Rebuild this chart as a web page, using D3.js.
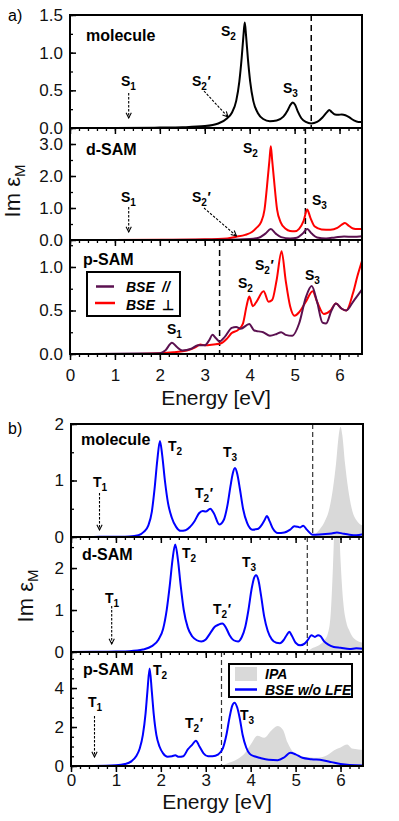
<!DOCTYPE html>
<html>
<head>
<meta charset="utf-8">
<script src="https://cdn.jsdelivr.net/npm/d3@7"></script>
<style>
  body { margin: 0; background: #fff; }
  text { font-family: "Liberation Sans", Arial, sans-serif; }
</style>
</head>
<body>
<svg id="chart" width="399" height="821"></svg>
<script>
// energy axis
const energyTicks = [0, 1, 2, 3, 4, 5, 6];
const energyMinor = d3.range(0, 6.5001, 0.2);

// a) molecule, BSE
const aMolecule = [[0,0],[1,0],[2,0.005],[2.5,0.01],[3,0.025],[3.3,0.06],[3.5,0.13],[3.6,0.2],[3.7,0.36],[3.77,0.62],[3.82,0.92],[3.86,1.22],[3.89,1.4],[3.92,1.22],[3.96,0.92],[4.01,0.62],[4.08,0.36],[4.18,0.2],[4.3,0.12],[4.45,0.09],[4.6,0.1],[4.75,0.15],[4.85,0.24],[4.91,0.31],[4.96,0.34],[5.01,0.31],[5.07,0.22],[5.15,0.13],[5.25,0.08],[5.37,0.06],[5.5,0.08],[5.62,0.14],[5.72,0.21],[5.77,0.24],[5.83,0.21],[5.9,0.18],[5.97,0.175],[6.05,0.18],[6.13,0.17],[6.22,0.14],[6.32,0.1],[6.42,0.08],[6.5,0.08]];
// a) d-SAM
const aDsamPerp = [[0,0],[2,0.005],[3,0.02],[3.5,0.05],[3.7,0.1],[3.9,0.16],[4.05,0.25],[4.15,0.38],[4.25,0.55],[4.33,0.95],[4.4,1.9],[4.44,2.5],[4.47,2.93],[4.5,2.5],[4.54,1.9],[4.61,0.95],[4.69,0.55],[4.8,0.35],[4.9,0.28],[5.0,0.27],[5.1,0.35],[5.2,0.6],[5.28,0.95],[5.35,0.7],[5.45,0.42],[5.6,0.33],[5.8,0.32],[5.95,0.38],[6.05,0.48],[6.12,0.53],[6.2,0.45],[6.3,0.36],[6.4,0.34],[6.5,0.34]];
const aDsamPar = [[0,0],[3.5,0.005],[4.0,0.03],[4.2,0.07],[4.35,0.2],[4.47,0.34],[4.58,0.2],[4.7,0.09],[4.9,0.05],[5.05,0.07],[5.18,0.2],[5.28,0.34],[5.38,0.2],[5.5,0.08],[5.7,0.05],[5.9,0.08],[6.1,0.11],[6.3,0.1],[6.5,0.12]];
// a) p-SAM
const aPsamPerp = [[0,0],[1,0],[2,0.01],[2.3,0.02],[2.6,0.04],[2.8,0.08],[2.9,0.11],[3.0,0.1],[3.2,0.11],[3.35,0.12],[3.5,0.18],[3.6,0.24],[3.75,0.28],[3.85,0.35],[3.93,0.55],[3.99,0.66],[4.07,0.55],[4.15,0.6],[4.31,0.72],[4.42,0.6],[4.5,0.62],[4.6,0.85],[4.71,1.18],[4.8,0.85],[4.9,0.55],[5.0,0.44],[5.1,0.48],[5.25,0.6],[5.4,0.72],[5.5,0.6],[5.65,0.46],[5.8,0.5],[5.92,0.58],[6.05,0.52],[6.15,0.5],[6.3,0.7],[6.4,0.9],[6.5,1.07]];
const aPsamPar = [[0,0],[1.5,0.005],[2.0,0.01],[2.12,0.04],[2.27,0.13],[2.38,0.08],[2.5,0.04],[2.7,0.06],[2.85,0.1],[3.0,0.1],[3.1,0.16],[3.17,0.22],[3.25,0.18],[3.33,0.145],[3.45,0.2],[3.6,0.3],[3.7,0.31],[3.8,0.29],[3.99,0.345],[4.1,0.27],[4.2,0.26],[4.3,0.25],[4.45,0.21],[4.6,0.23],[4.7,0.25],[4.8,0.22],[4.95,0.21],[5.1,0.35],[5.25,0.65],[5.38,0.78],[5.5,0.6],[5.62,0.36],[5.7,0.35],[5.82,0.5],[5.92,0.58],[6.05,0.52],[6.15,0.5],[6.3,0.6],[6.5,0.74]];

// b) molecule
const bMolBse = [[0,0],[0.5,0.002],[1.0,0.005],[1.3,0.01],[1.5,0.03],[1.62,0.09],[1.72,0.2],[1.8,0.45],[1.86,0.85],[1.92,1.35],[1.98,1.7],[2.03,1.45],[2.09,1.0],[2.16,0.6],[2.24,0.35],[2.34,0.18],[2.44,0.11],[2.55,0.12],[2.65,0.18],[2.75,0.28],[2.85,0.42],[2.93,0.46],[3.0,0.45],[3.1,0.5],[3.18,0.42],[3.3,0.22],[3.4,0.3],[3.48,0.55],[3.55,0.9],[3.6,1.12],[3.65,1.22],[3.7,1.12],[3.76,0.85],[3.83,0.5],[3.92,0.25],[4.04,0.13],[4.15,0.14],[4.25,0.22],[4.31,0.3],[4.36,0.37],[4.42,0.28],[4.5,0.14],[4.6,0.07],[4.75,0.08],[4.88,0.13],[4.97,0.19],[5.05,0.18],[5.1,0.17],[5.17,0.2],[5.25,0.13],[5.38,0.04],[5.6,0.05],[5.8,0.06],[5.92,0.08],[6.05,0.06],[6.2,0.04],[6.35,0.03],[6.5,0.05]];
const bMolIpa = [[5.38,0],[5.45,0.06],[5.55,0.15],[5.65,0.28],[5.75,0.5],[5.83,0.85],[5.9,1.3],[5.96,1.8],[6.0,1.95],[6.04,1.8],[6.1,1.3],[6.17,0.85],[6.25,0.5],[6.35,0.3],[6.5,0.2]];
// b) d-SAM
const bDsamBse = [[0,0],[0.5,0.003],[1.0,0.01],[1.3,0.02],[1.6,0.06],[1.8,0.14],[1.95,0.3],[2.05,0.55],[2.13,1.0],[2.2,1.6],[2.26,2.2],[2.32,2.56],[2.38,2.2],[2.44,1.6],[2.51,1.0],[2.6,0.58],[2.7,0.37],[2.8,0.28],[2.9,0.25],[3.0,0.3],[3.1,0.45],[3.2,0.6],[3.28,0.65],[3.37,0.68],[3.45,0.58],[3.53,0.4],[3.62,0.28],[3.72,0.25],[3.8,0.35],[3.88,0.6],[3.95,1.0],[4.02,1.5],[4.08,1.78],[4.12,1.83],[4.17,1.72],[4.23,1.35],[4.3,0.85],[4.38,0.5],[4.47,0.3],[4.57,0.22],[4.65,0.21],[4.73,0.28],[4.8,0.4],[4.86,0.48],[4.92,0.38],[5.0,0.22],[5.1,0.16],[5.2,0.2],[5.28,0.3],[5.35,0.4],[5.43,0.36],[5.5,0.4],[5.55,0.38],[5.63,0.26],[5.72,0.18],[5.85,0.12],[6.0,0.1],[6.2,0.07],[6.35,0.09],[6.5,0.08]];
const bDsamIpa = [[5.26,0],[5.35,0.08],[5.5,0.15],[5.62,0.25],[5.72,0.45],[5.78,0.9],[5.83,2.0],[5.87,3.2],[5.91,4.0],[5.96,3.2],[6.0,2.2],[6.06,1.2],[6.13,0.7],[6.2,0.5],[6.3,0.32],[6.5,0.22]];
// b) p-SAM
const bPsamBse = [[0,0],[0.5,0.005],[1.0,0.04],[1.2,0.1],[1.35,0.25],[1.45,0.5],[1.53,0.9],[1.6,1.6],[1.66,2.7],[1.7,3.8],[1.75,5.0],[1.8,3.8],[1.84,2.7],[1.9,1.6],[1.97,1.0],[2.05,0.65],[2.15,0.48],[2.25,0.5],[2.32,0.55],[2.4,0.47],[2.5,0.5],[2.6,0.85],[2.7,1.1],[2.78,1.3],[2.86,1.0],[2.95,0.65],[3.05,0.5],[3.15,0.5],[3.28,0.6],[3.38,0.9],[3.46,1.6],[3.53,2.5],[3.59,3.1],[3.64,3.25],[3.7,3.0],[3.76,2.4],[3.82,1.6],[3.9,0.95],[3.98,0.62],[4.08,0.5],[4.2,0.42],[4.4,0.32],[4.6,0.3],[4.75,0.45],[4.88,0.68],[5.0,0.6],[5.15,0.42],[5.35,0.35],[5.6,0.3],[5.8,0.2],[6.0,0.1],[6.2,0.05],[6.5,0.03]];
const bPsamIpa = [[3.35,0],[3.5,0.15],[3.7,0.35],[3.85,0.6],[4.0,1.1],[4.15,1.55],[4.3,1.45],[4.45,1.8],[4.6,2.05],[4.72,1.85],[4.82,1.2],[4.95,0.7],[5.1,0.5],[5.3,0.45],[5.5,0.42],[5.7,0.55],[5.85,0.8],[6.0,0.95],[6.15,1.1],[6.25,0.9],[6.4,0.85],[6.5,0.82]];

// gap positions (dashed lines)
const gapsA = [5.37, 5.24, 3.33];
const gapsB = [5.38, 5.26, 3.35];

const svg = d3.select("#chart");
const defs = svg.append("defs");
defs.append("marker")
  .attr("id", "arr")
  .attr("viewBox", "0 0 10 10")
  .attr("refX", 9).attr("refY", 5)
  .attr("markerWidth", 6).attr("markerHeight", 6)
  .attr("orient", "auto")
  .append("path")
  .attr("d", "M1,1 L9,5 L1,9")
  .attr("fill", "none").attr("stroke", "#000").attr("stroke-width", 1.6);

const red = "#ff0000", purple = "#5b1150", blue = "#0000ff", grey = "#d9d9d9";

const panels = [
  { x0: 70, x1: 362, y0: 15, y1: 128, ymax: 1.5, major: [0, 0.5, 1, 1.5], minor: 0.25, fmt: ".1f",
    gap: gapsA[0], gapStyle: "a", name: "molecule", nameX: 86, nameY: 41,
    lines: [{ data: aMolecule, color: "#000" }],
    labels: [{ b: "S", s: "2", x: 221, y: 36 }, { b: "S", s: "1", x: 121, y: 86 }, { b: "S", s: "2", p: 1, x: 192, y: 86 }, { b: "S", s: "3", x: 283, y: 93 }],
    arrows: [[128.7, 93, 128.7, 118], [204, 91, 228, 117]] },
  { x0: 70, x1: 362, y0: 128, y1: 240, ymax: 3.5, major: [0, 1, 2, 3], minor: 0.5, fmt: ".1f",
    gap: gapsA[1], gapStyle: "a", name: "d-SAM", nameX: 86, nameY: 155,
    lines: [{ data: aDsamPerp, color: red }, { data: aDsamPar, color: purple }],
    labels: [{ b: "S", s: "2", x: 243, y: 153 }, { b: "S", s: "1", x: 121, y: 202 }, { b: "S", s: "2", p: 1, x: 192, y: 202 }, { b: "S", s: "3", x: 312, y: 205 }],
    arrows: [[128.7, 207, 128.7, 232], [204, 208, 236.5, 236]] },
  { x0: 70, x1: 362, y0: 240, y1: 354, ymax: 1.31, major: [0, 0.5, 1], minor: 0.25, fmt: ".1f",
    gap: gapsA[2], gapStyle: "a", name: "p-SAM", nameX: 83, nameY: 265, xLabels: true, xPad: 9, titleY: 405,
    lines: [{ data: aPsamPerp, color: red }, { data: aPsamPar, color: purple }],
    labels: [{ b: "S", s: "1", x: 167, y: 334 }, { b: "S", s: "2", x: 238, y: 288 }, { b: "S", s: "2", p: 1, x: 255, y: 270 }, { b: "S", s: "3", x: 305, y: 280 }],
    arrows: [] },
  { x0: 71, x1: 363, y0: 424, y1: 537, ymax: 2, major: [0, 1, 2], minor: 0.5, fmt: "d",
    gap: gapsB[0], gapStyle: "b", name: "molecule", nameX: 81, nameY: 445,
    ipa: bMolIpa, lines: [{ data: bMolBse, color: blue }],
    labels: [{ b: "T", s: "2", x: 168, y: 451 }, { b: "T", s: "1", x: 93, y: 487 }, { b: "T", s: "2", p: 1, x: 195, y: 498 }, { b: "T", s: "3", x: 223, y: 457 }],
    arrows: [[99.5, 493, 99.5, 530]] },
  { x0: 71, x1: 363, y0: 537, y1: 652, ymax: 2.74, major: [0, 1, 2], minor: 0.5, fmt: "d",
    gap: gapsB[1], gapStyle: "b", name: "d-SAM", nameX: 82, nameY: 560,
    ipa: bDsamIpa, lines: [{ data: bDsamBse, color: blue }],
    labels: [{ b: "T", s: "2", x: 182, y: 558 }, { b: "T", s: "3", x: 242, y: 567 }, { b: "T", s: "2", p: 1, x: 213, y: 614 }, { b: "T", s: "1", x: 105, y: 603 }],
    arrows: [[111.7, 606, 111.7, 644]] },
  { x0: 71, x1: 363, y0: 652, y1: 766, ymax: 5.85, major: [0, 2, 4], minor: 0.5, fmt: "d",
    gap: gapsB[2], gapStyle: "b", name: "p-SAM", nameX: 83, nameY: 675, xLabels: true, xPad: 2, titleY: 809,
    ipa: bPsamIpa, lines: [{ data: bPsamBse, color: blue }],
    labels: [{ b: "T", s: "2", x: 153, y: 675 }, { b: "T", s: "1", x: 88, y: 707 }, { b: "T", s: "2", p: 1, x: 185, y: 728 }, { b: "T", s: "3", x: 240, y: 720 }],
    arrows: [[94.5, 716, 94.5, 757]] }
];

function peakLabel(g, l) {
  const t = g.append("text").attr("x", l.x).attr("y", l.y)
    .attr("font-size", 14).attr("font-weight", "bold").attr("fill", "#000");
  t.append("tspan").text(l.b);
  t.append("tspan").attr("font-size", 10).attr("dy", 4).text(l.s);
  if (l.p) t.append("tspan").attr("dy", -4).attr("dx", 0.5).text("\u2032");
}

panels.forEach((p, i) => {
  const g = svg.append("g");
  const x = d3.scaleLinear().domain([0, 6.5]).range([p.x0, p.x1]);
  const y = d3.scaleLinear().domain([0, p.ymax]).range([p.y1, p.y0]);

  const clipId = "clip" + i;
  defs.append("clipPath").attr("id", clipId).append("rect")
    .attr("x", p.x0).attr("y", p.y0).attr("width", p.x1 - p.x0).attr("height", p.y1 - p.y0);
  const plot = g.append("g").attr("clip-path", `url(#${clipId})`);

  if (p.ipa) {
    plot.append("path").datum(p.ipa)
      .attr("fill", grey)
      .attr("d", d3.area().x(d => x(d[0])).y0(y(0)).y1(d => y(d[1])).curve(d3.curveMonotoneX));
  }

  // gap line
  plot.append("line")
    .attr("x1", x(p.gap)).attr("x2", x(p.gap)).attr("y1", p.y0).attr("y2", p.y1)
    .attr("stroke", p.gapStyle === "a" ? "#000" : "#333")
    .attr("stroke-width", p.gapStyle === "a" ? 1.5 : 1.2)
    .attr("stroke-dasharray", p.gapStyle === "a" ? "6,4" : "5,3");

  const line = d3.line().x(d => x(d[0])).y(d => y(d[1])).curve(d3.curveMonotoneX);
  p.lines.forEach(s => {
    plot.append("path").datum(s.data)
      .attr("fill", "none").attr("stroke", s.color)
      .attr("stroke-width", 2).attr("stroke-linejoin", "round")
      .attr("d", line);
  });

  // y axis
  const yMinor = d3.range(0, p.ymax + 1e-6, p.minor);
  g.append("g").attr("transform", `translate(${p.x0},0)`)
    .call(d3.axisLeft(y).tickValues(yMinor).tickSizeInner(-3).tickSizeOuter(0).tickFormat(""))
    .call(a => a.select(".domain").remove())
    .selectAll("line").attr("stroke-width", 1.3);
  const ya = g.append("g").attr("transform", `translate(${p.x0},0)`)
    .call(d3.axisLeft(y).tickValues(p.major).tickSizeInner(-6).tickSizeOuter(0).tickPadding(7).tickFormat(d3.format(p.fmt)))
    .call(a => a.select(".domain").remove());
  ya.selectAll("line").attr("stroke-width", 1.5);
  ya.selectAll("text").attr("font-size", 17).attr("fill", "#111")
    .style("font-family", "'Liberation Sans', Arial, sans-serif");

  // x axis
  g.append("g").attr("transform", `translate(0,${p.y1})`)
    .call(d3.axisBottom(x).tickValues(energyMinor).tickSize(3).tickFormat(""))
    .call(a => a.select(".domain").remove())
    .selectAll("line").attr("stroke-width", 1.3);
  const xa = g.append("g").attr("transform", `translate(0,${p.y1})`)
    .call(d3.axisBottom(x).tickValues(energyTicks).tickSize(6).tickPadding(p.xPad || 3)
      .tickFormat(p.xLabels ? d3.format("d") : ""))
    .call(a => a.select(".domain").remove());
  xa.selectAll("line").attr("stroke-width", 1.5);
  xa.selectAll("text").attr("font-size", 17).attr("fill", "#111")
    .style("font-family", "'Liberation Sans', Arial, sans-serif");

  if (p.xLabels) {
    g.append("text").attr("x", (p.x0 + p.x1) / 2).attr("y", p.titleY)
      .attr("text-anchor", "middle").attr("font-size", 21).attr("fill", "#111")
      .text("Energy [eV]");
  }

  // frame
  g.append("rect").attr("x", p.x0).attr("y", p.y0)
    .attr("width", p.x1 - p.x0).attr("height", p.y1 - p.y0)
    .attr("fill", "none").attr("stroke", "#000").attr("stroke-width", 2);

  g.append("text").attr("x", p.nameX).attr("y", p.nameY)
    .attr("font-size", 16).attr("font-weight", "bold").text(p.name);

  p.labels.forEach(l => peakLabel(g, l));
  p.arrows.forEach(a => {
    g.append("line").attr("x1", a[0]).attr("y1", a[1]).attr("x2", a[2]).attr("y2", a[3])
      .attr("stroke", "#000").attr("stroke-width", 1.1).attr("stroke-dasharray", "2.5,1.5")
      .attr("marker-end", "url(#arr)");
  });
});

// y titles
function yTitle(xp, yp) {
  const t = svg.append("text")
    .attr("transform", `translate(${xp},${yp}) rotate(-90)`)
    .attr("text-anchor", "middle").attr("font-size", 22).attr("fill", "#111");
  t.append("tspan").text("Im \u03b5");
  t.append("tspan").attr("font-size", 15).attr("dy", 5).text("M");
}
yTitle(20, 191);
yTitle(33, 596);

// panel letters
svg.append("text").attr("x", 8).attr("y", 21).attr("font-size", 16).text("a)");
svg.append("text").attr("x", 8).attr("y", 434).attr("font-size", 16).text("b)");

// legend a)
const la = svg.append("g");
la.append("rect").attr("x", 87).attr("y", 272).attr("width", 93).attr("height", 44)
  .attr("fill", "#fff").attr("stroke", "#000").attr("stroke-width", 2);
la.append("line").attr("x1", 96).attr("x2", 114).attr("y1", 286.5).attr("y2", 286.5)
  .attr("stroke", purple).attr("stroke-width", 2.5);
la.append("line").attr("x1", 95).attr("x2", 115).attr("y1", 303).attr("y2", 303)
  .attr("stroke", red).attr("stroke-width", 2.5);
la.append("text").attr("x", 126).attr("y", 292).attr("font-size", 14)
  .attr("font-weight", "bold").attr("font-style", "italic").text("BSE");
la.append("text").attr("x", 162).attr("y", 292).attr("font-size", 14)
  .attr("font-weight", "bold").attr("font-style", "italic").text("//");
la.append("text").attr("x", 126).attr("y", 310).attr("font-size", 14)
  .attr("font-weight", "bold").attr("font-style", "italic").text("BSE");
la.append("text").attr("x", 162).attr("y", 310).attr("font-size", 14)
  .attr("font-weight", "bold").text("\u22a5");

// legend b)
const lb = svg.append("g");
lb.append("rect").attr("x", 229).attr("y", 664).attr("width", 123).attr("height", 33)
  .attr("fill", "#fff").attr("stroke", "#000").attr("stroke-width", 2);
lb.append("rect").attr("x", 235).attr("y", 667).attr("width", 22).attr("height", 14).attr("fill", grey);
lb.append("line").attr("x1", 235).attr("x2", 257).attr("y1", 689.5).attr("y2", 689.5)
  .attr("stroke", blue).attr("stroke-width", 2.5);
lb.append("text").attr("x", 265).attr("y", 679).attr("font-size", 14)
  .attr("font-weight", "bold").attr("font-style", "italic").text("IPA");
lb.append("text").attr("x", 265).attr("y", 695).attr("font-size", 14)
  .attr("font-weight", "bold").attr("font-style", "italic").text("BSE w/o LFE");
</script>
</body>
</html>
